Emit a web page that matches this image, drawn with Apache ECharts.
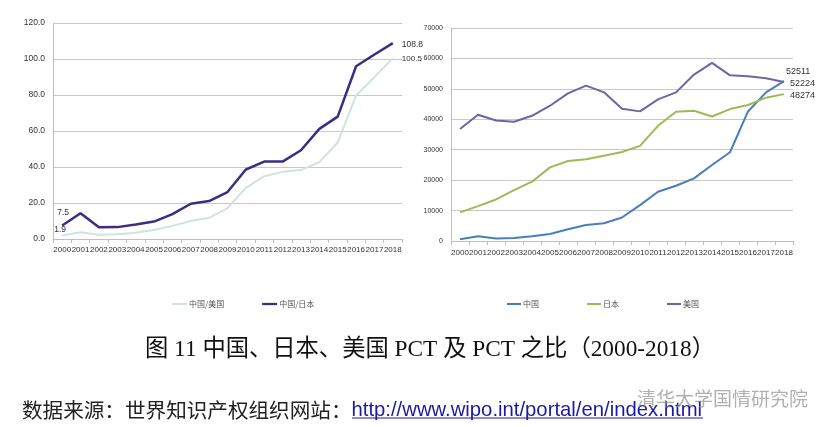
<!DOCTYPE html>
<html><head><meta charset="utf-8">
<script src="https://cdn.jsdelivr.net/npm/echarts@6/dist/echarts.min.js"></script>
<style>html,body{margin:0;padding:0;background:#fff}#c{width:825px;height:427px}</style>
</head><body><div id="c"></div>
<script>
const years = ['2000','2001','2002','2003','2004','2005','2006','2007','2008','2009','2010','2011','2012','2013','2014','2015','2016','2017','2018'];
const ratioUS = [1.9,3.7,2.3,2.6,3.5,5.0,7.3,10.0,11.8,17.2,28.4,34.9,37.3,38.3,42.7,53.6,79.7,90.0,100.5];
const ratioJP = [7.5,14.3,6.5,6.6,8.0,9.7,13.8,19.6,21.1,26.1,38.6,43.0,43.0,49.3,61.2,68.0,96.0,102.5,108.8];
const pctCN = [560,1550,790,1000,1550,2300,3860,5280,5840,7720,11780,16170,18150,20590,24980,29170,42570,48850,52511];
const pctJP = [9400,11450,13650,16700,19500,24200,26300,26850,28050,29250,31250,37850,42450,42800,40900,43350,44700,47100,48274];
const pctUS = [36800,41480,39600,39200,41150,44450,48500,51050,48850,43450,42600,46550,48850,54700,58550,54450,54150,53500,52224];
const leftTicks = {min:0, max:120, interval:20};
const rightTicks = {min:0, max:70000, interval:10000};
const caption = '图 11 中国、日本、美国 PCT 及 PCT 之比（2000-2018）';
const sourceLabel = '数据来源：世界知识产权组织网站：';
const sourceUrl = 'http://www.wipo.int/portal/en/index.html';
const watermark = '清华大学国情研究院';

const sans = "'Liberation Sans',Arial,sans-serif";
const cjk = "'Noto Sans CJK SC',sans-serif";
function endLabels(arr, spec) {
  return arr.map((v, i) => spec[i] ? {value: v, label: Object.assign({show: true}, spec[i])} : v);
}
const last = years.length - 1;
const chart = echarts.init(document.getElementById('c'), null, {renderer:'canvas'});
const axisLineStyle = {lineStyle:{color:'#bfbfbf', width:1}};
const lineIcon = 'path://M0,0H20V3H0Z';
const sym = {symbol:'circle', symbolSize:0, showSymbol:true};
chart.setOption({
  backgroundColor:'#fff',
  animation:false,
  title:[
    {text: caption, left:140, top:333,
     textStyle:{fontFamily:"'Liberation Serif','Noto Sans CJK SC',serif", fontSize:23.3, fontWeight:'normal', color:'#111'}},
    {text: '{a|' + sourceLabel + '}{b|' + sourceUrl + '}', left:17, top:395,
     textStyle:{fontWeight:'normal', rich:{
       a:{fontFamily:cjk, fontSize:20.6, fontWeight:'normal', color:'#222'},
       b:{fontFamily:sans, fontSize:20.3, fontWeight:'normal', color:'#1a1aa6'}}}},
    {text: watermark, left:632, top:384,
     textStyle:{fontFamily:cjk, fontSize:19, fontWeight:'normal', color:'rgba(150,150,150,0.75)'}}
  ],
  graphic:[
    {type:'line', shape:{x1:352, y1:418, x2:703, y2:418}, style:{stroke:'#1a1aa6', lineWidth:1}}
  ],
  legend:[
    {data:['中国/美国','中国/日本'], left:172, top:300, padding:0, itemGap:38, itemWidth:15, itemHeight:3, icon:lineIcon,
     textStyle:{fontFamily:cjk, fontSize:8, color:'#555', padding:[0,0,0,-3]}},
    {data:['中国','日本','美国'], left:507, top:300, padding:0, itemGap:48, itemWidth:14, itemHeight:3, icon:lineIcon,
     textStyle:{fontFamily:cjk, fontSize:8, color:'#555', padding:[0,0,0,-3]}}
  ],
  grid:[
    {left:53, right:423, top:23, bottom:188},
    {left:451, right:32, top:28, bottom:186}
  ],
  xAxis:[
    {type:'category', gridIndex:0, data:years, boundaryGap:true,
     axisLine:axisLineStyle, axisTick:{show:true, lineStyle:{color:'#bfbfbf'}, length:4},
     axisLabel:{fontFamily:sans, fontSize:8, color:'#333', interval:0, margin:7}},
    {type:'category', gridIndex:1, data:years, boundaryGap:true,
     axisLine:axisLineStyle, axisTick:{show:true, lineStyle:{color:'#bfbfbf'}, length:4},
     axisLabel:{fontFamily:sans, fontSize:8, color:'#333', interval:0, margin:8}}
  ],
  yAxis:[
    {type:'value', gridIndex:0, min:leftTicks.min, max:leftTicks.max, interval:leftTicks.interval,
     axisLine:{show:true, lineStyle:{color:'#bfbfbf'}}, axisTick:{show:false},
     splitLine:{lineStyle:{color:'#c8c8c8'}},
     axisLabel:{fontFamily:sans, fontSize:8.5, color:'#333', formatter:v=>v.toFixed(1), margin:8}},
    {type:'value', gridIndex:1, min:rightTicks.min, max:rightTicks.max, interval:rightTicks.interval,
     axisLine:{show:true, lineStyle:{color:'#bfbfbf'}}, axisTick:{show:false},
     splitLine:{lineStyle:{color:'#c8c8c8'}},
     axisLabel:{fontFamily:sans, fontSize:7, color:'#333', formatter:v=>String(v), margin:8}}
  ],
  series:[
    Object.assign({name:'中国/美国', type:'line', xAxisIndex:0, yAxisIndex:0,
     lineStyle:{color:'#cfe4df', width:2}, itemStyle:{color:'#cfe4df'},
     label:{fontFamily:sans, fontSize:8, color:'#333'},
     data: endLabels(ratioUS, {0:{position:'inside', offset:[-2,-6], fontSize:8.5}, [last]:{position:'right', distance:9, offset:[0,1]}})}, sym),
    Object.assign({name:'中国/日本', type:'line', xAxisIndex:0, yAxisIndex:0,
     lineStyle:{color:'#3b2e82', width:2.5}, itemStyle:{color:'#3b2e82'},
     label:{fontFamily:sans, fontSize:8.5, color:'#333'},
     data: endLabels(ratioJP, {0:{position:'top', offset:[1,-3]}, [last]:{position:'right', distance:9, offset:[0,1]}})}, sym),
    Object.assign({name:'中国', type:'line', xAxisIndex:1, yAxisIndex:1,
     lineStyle:{color:'#4a7ebb', width:2}, itemStyle:{color:'#4a7ebb'},
     label:{fontFamily:sans, fontSize:9, color:'#333'},
     data: endLabels(pctCN, {[last]:{position:'right', distance:2, offset:[0,-10]}})}, sym),
    Object.assign({name:'日本', type:'line', xAxisIndex:1, yAxisIndex:1,
     lineStyle:{color:'#9bbb59', width:2}, itemStyle:{color:'#9bbb59'},
     label:{fontFamily:sans, fontSize:9, color:'#333'},
     data: endLabels(pctJP, {[last]:{position:'right', distance:6, offset:[0,1]}})}, sym),
    Object.assign({name:'美国', type:'line', xAxisIndex:1, yAxisIndex:1,
     lineStyle:{color:'#7064a3', width:2}, itemStyle:{color:'#7064a3'},
     label:{fontFamily:sans, fontSize:9, color:'#333'},
     data: endLabels(pctUS, {[last]:{position:'right', distance:6, offset:[0,1]}})}, sym)
  ]
});
</script></body></html>
